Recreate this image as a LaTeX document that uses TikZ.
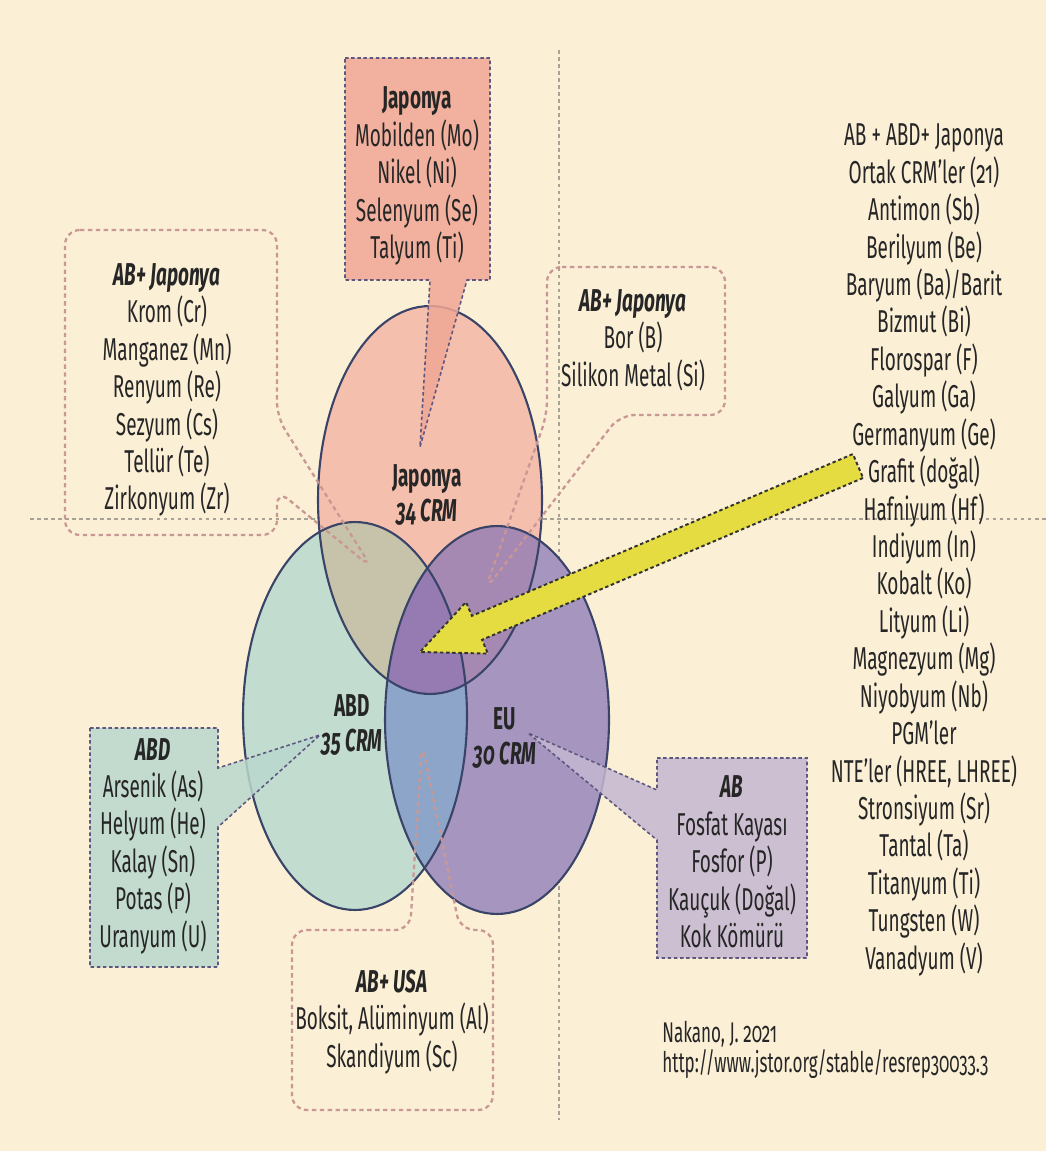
\documentclass[tikz,border=0pt]{standalone}
\usepackage{fontspec}
\setmainfont{Fira Sans}[FakeStretch=0.6, Numbers=OldStyle]
\usepackage{xcolor}
\usepackage{tikz}
\usetikzlibrary{calc}
\definecolor{mybg}{HTML}{FBEFD6}
\definecolor{myline}{HTML}{3A4468}
\definecolor{mygrid}{HTML}{A8A296}
\definecolor{jpfill}{HTML}{F5BFAE}
\definecolor{abdfill}{HTML}{C3DCD0}
\definecolor{eufill}{HTML}{A696BF}
\definecolor{jpabd}{HTML}{C6C3AA}
\definecolor{jpeu}{HTML}{A689B3}
\definecolor{abdeu}{HTML}{8DA5C8}
\definecolor{allthree}{HTML}{957BB2}
\definecolor{jpbox}{HTML}{F0A795}
\definecolor{abdbox}{HTML}{B9D8CD}
\definecolor{abbox}{HTML}{C4B7D1}
\definecolor{pinkdash}{HTML}{C99794}
\definecolor{boxdash}{HTML}{5E5880}
\definecolor{myyellow}{HTML}{E4DC40}
\newcommand{\tightlines}{\lineskiplimit=-20pt\relax}

\begin{document}
\begin{tikzpicture}[x=0.02cm, y=-0.02cm,
    txt/.style={align=center, inner sep=0pt, text=black!85, font=\fontsize{18}{21.3}\selectfont},
    callout/.style={pinkdash, line width=1.3pt, dash pattern=on 2.5pt off 2pt, rounded corners=0.3cm},
    solidbox/.style={draw=boxdash, line width=0.9pt, dash pattern=on 2pt off 1.5pt, fill opacity=0.85}]
    % basics
    \useasboundingbox (0,0) rectangle (1046,1151);
    \fill[mybg] (0,0) rectangle (1046,1151);
    \draw[mygrid, line width=0.8pt, dash pattern=on 2pt off 2pt] (559,50) -- (559,1120);
    \draw[mygrid, line width=0.8pt, dash pattern=on 2pt off 2pt] (30,519) -- (1046,519);

    % ellipses
    \fill[jpfill] (430,500) ellipse (2.24cm and 3.88cm);
    \fill[abdfill] (355,716) ellipse (2.24cm and 3.88cm);
    \fill[eufill] (497,720) ellipse (2.24cm and 3.88cm);
    \begin{scope}
        \clip (430,500) ellipse (2.24cm and 3.88cm);
        \fill[jpabd] (355,716) ellipse (2.24cm and 3.88cm);
        \fill[jpeu] (497,720) ellipse (2.24cm and 3.88cm);
    \end{scope}
    \begin{scope}
        \clip (355,716) ellipse (2.24cm and 3.88cm);
        \fill[abdeu] (497,720) ellipse (2.24cm and 3.88cm);
        \clip (430,500) ellipse (2.24cm and 3.88cm);
        \fill[allthree] (497,720) ellipse (2.24cm and 3.88cm);
    \end{scope}
    \draw[myline, line width=1.2pt] (430,500) ellipse (2.24cm and 3.88cm);
    \draw[myline, line width=1.2pt] (355,716) ellipse (2.24cm and 3.88cm);
    \draw[myline, line width=1.2pt] (497,720) ellipse (2.24cm and 3.88cm);

    % callouts
    \coordinate (jptip) at (420,447);
    \coordinate (abjptip) at (372,568);
    \coordinate (bortip) at (485,590);
    \coordinate (abdtip) at (320,735);
    \coordinate (usatip) at (422,743);
    \coordinate (abtip) at (528,733);
    \filldraw[jpbox, solidbox] (345,58) -- (490,58) -- (490,280) -- (467,280) -- (jptip) -- (430,280) -- (345,280) -- cycle;
    \draw[callout] (65,230) -- (277,230) -- (277,417) -- (abjptip) -- (277,490) -- (277,535) -- (65,535) -- cycle;
    \draw[callout] (547,267) -- (725,267) -- (725,415) -- (620,415) -- (bortip) -- (547,415) -- cycle;
    \filldraw[abdbox, solidbox] (90,728) -- (218,728) -- (218,768) -- (abdtip) -- (218,827) -- (218,967) -- (90,967) -- cycle;
    \draw[callout] (292,930) -- (410,930) -- (usatip) -- (460,930) -- (493,930) -- (493,1110) -- (292,1110) -- cycle;
    \filldraw[abbox, solidbox] (657,758) -- (807,758) -- (807,958) -- (657,958) -- (657,840) -- (abtip) -- (657,790) -- cycle;

    % yellow arrow
    \coordinate (arrS) at (858,466);
    \coordinate (arrT) at (420,652);
    \coordinate (arrB) at ($(arrS)!0.87!(arrT)$);
    \filldraw[myyellow, draw=black!80, line width=1.1pt, dash pattern=on 2pt off 1.5pt]
        ($(arrS)!0.26cm!90:(arrT)$) -- ($(arrB)!0.26cm!90:(arrT)$) -- ($(arrB)!0.56cm!90:(arrT)$) -- (arrT)
        -- ($(arrB)!0.56cm!-90:(arrT)$) -- ($(arrB)!0.26cm!-90:(arrT)$) -- ($(arrS)!0.26cm!-90:(arrT)$) -- cycle;

    % texts
    \node[txt] (boxjp) at (417,176) {\textbf{Japonya}\\Mobilden (Mo)\\Nikel (Ni)\\Selenyum (Se)\\Talyum (Ti)};
    \node[txt] (boxabjp) at (167,390) {{\bfseries\itshape AB+ Japonya}\\Krom (Cr)\\Manganez (Mn)\\Renyum (Re)\\Sezyum (Cs)\\Tellür (Te)\\Zirkonyum (Zr)};
    \node[txt] (boxborsi) at (633,340) {{\bfseries\itshape AB+ Japonya}\\Bor (B)\\Silikon Metal (Si)};
    \node[txt] (boxabd) at (153,846) {{\bfseries\itshape ABD}\\Arsenik (As)\\Helyum (He)\\Kalay (Sn)\\Potas (P)\\Uranyum (U)};
    \node[txt] (boxusa) at (392,1022) {{\bfseries\itshape AB+ USA}\\Boksit, Alüminyum (Al)\\Skandiyum (Sc)};
    \node[txt] (boxab) at (732,862) {{\bfseries\itshape AB}\\Fosfat Kayası\\Fosfor (P)\\Kauçuk (Doğal)\\Kok Kömürü};
    \node[txt, font=\fontsize{18}{20}\selectfont\bfseries] (lbljp) at (427,495) {Japonya\\\textit{34 CRM}};
    \node[txt, font=\fontsize{18}{20}\selectfont\bfseries] (lblabd) at (352,725) {ABD\\\textit{35 CRM}};
    \node[txt, font=\fontsize{18}{20}\selectfont\bfseries] (lbleu) at (505,738) {EU\\\textit{30 CRM}};
    \node[txt] (common) at (924,550) {AB + ABD+ Japonya\\Ortak CRM’ler (21)\\Antimon (Sb)\\Berilyum (Be)\\Baryum (Ba)/Barit\\Bizmut (Bi)\\Florospar (F)\\Galyum (Ga)\\Germanyum (Ge)\\Grafit (doğal)\\Hafniyum (Hf)\\Indiyum (In)\\Kobalt (Ko)\\Lityum (Li)\\Magnezyum (Mg)\\Niyobyum (Nb)\\PGM’ler\\NTE’ler (HREE, LHREE)\\Stronsiyum (Sr)\\Tantal (Ta)\\Titanyum (Ti)\\Tungsten (W)\\Vanadyum (V)};
    \node[txt, align=left, anchor=west, font=\fontsize{16.2}{16.8}\selectfont\tightlines] (source) at (662,1050) {Nakano, J. 2021\\http://www.jstor.org/stable/resrep30033.3};
\end{tikzpicture}
\end{document}
